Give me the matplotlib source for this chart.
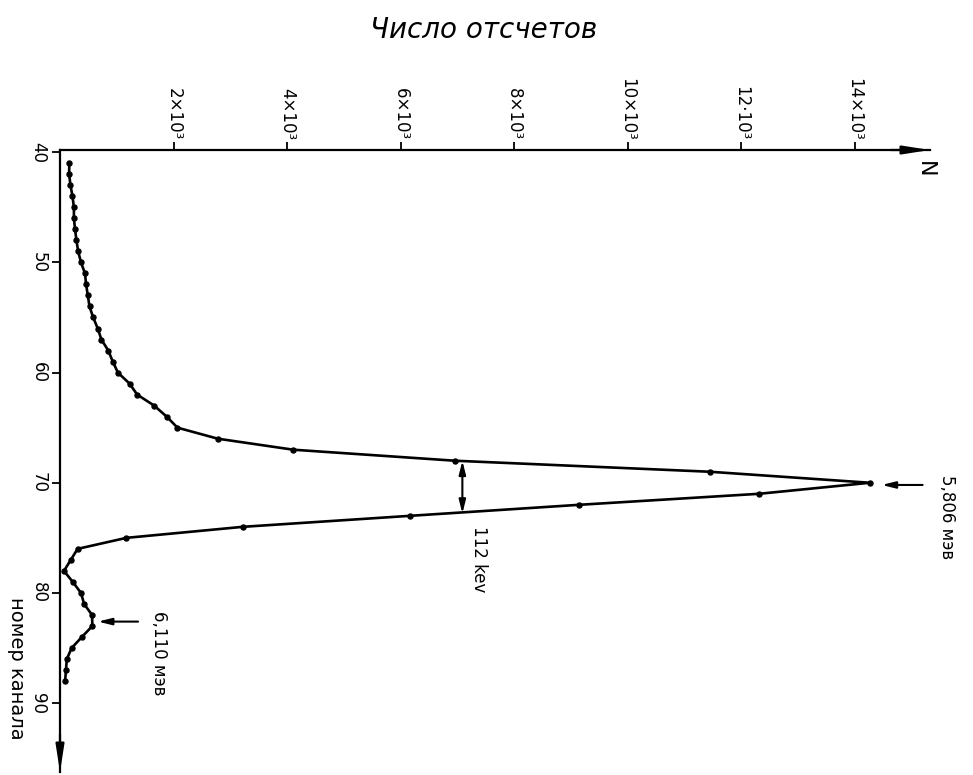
import matplotlib
matplotlib.use("Agg")
import matplotlib.pyplot as plt

plt.rcParams['font.family'] = ['DejaVu Sans']

# ---- data ----
channels = [41, 42, 43, 44, 45, 46, 47, 48, 49, 50,
            51, 52, 53, 54, 55, 56, 57, 58, 59, 60,
            61, 62, 63, 64, 65, 66, 67, 68, 69, 70,
            71, 72, 73, 74, 75, 76, 77, 78, 79, 80,
            81, 82, 83, 84, 85, 86, 87, 88]
counts = [165, 160, 185, 220, 245, 245, 265, 290, 320, 370,
          440, 460, 490, 520, 585, 665, 730, 850, 930, 1020,
          1225, 1360, 1660, 1880, 2070, 2780, 4110, 6960, 11450, 14270,
          12320, 9150, 6170, 3220, 1170, 310, 190, 70, 225, 370,
          425, 565, 570, 385, 205, 120, 105, 90]

n_ticks = [2000, 4000, 6000, 8000, 10000, 12000, 14000]
n_tick_labels = ["2×10³", "4×10³", "6×10³", "8×10³", "10×10³", "12·10³", "14×10³"]
ch_ticks = [40, 50, 60, 70, 80, 90]
ch_tick_labels = ["40", "50", "60", "70", "80", "90"]

title_text = "Число отсчетов"
n_label = "N"
ch_label = "номер канала"
peak1_label = "5,806 мэв"
peak2_label = "6,110 мэв"
fwhm_label = "112 kev"

# ---- figure ----
W, H = 973, 775
fig = plt.figure(figsize=(W / 100, H / 100), dpi=100)
ax = fig.add_axes([60 / W, 1 - 772 / H, (930 - 60) / W, (772 - 150) / H])
ax.set_xlim(0, 15330)
ax.set_ylim(96.25, 39.8)

ax.plot(counts, channels, '-', color='black', lw=1.9, zorder=3)
ax.plot(counts, channels, 'o', color='black', ms=3.6, zorder=4)

# axes styling
for s in ['bottom', 'right']:
    ax.spines[s].set_visible(False)
for s in ['top', 'left']:
    ax.spines[s].set_linewidth(1.6)

ax.xaxis.tick_top()
ax.set_xticks(n_ticks)
ax.set_xticklabels(n_tick_labels, rotation=-90, fontsize=12)
ax.tick_params(axis='x', direction='out', length=6, width=1.3, pad=1)
ax.set_yticks(ch_ticks)
ax.set_yticklabels(ch_tick_labels, rotation=-90, fontsize=12, va='center')
ax.tick_params(axis='y', direction='out', length=6, width=1.3, pad=3)

# axis arrow heads
ax.annotate('', xy=(1.0, 1.0), xytext=(0.955, 1.0), xycoords='axes fraction',
            arrowprops=dict(arrowstyle='-|>,head_length=1.6,head_width=0.25',
                            color='black', lw=1.6, shrinkA=0, shrinkB=0),
            annotation_clip=False)
ax.annotate('', xy=(0.0, 0.0), xytext=(0.0, 0.06), xycoords='axes fraction',
            arrowprops=dict(arrowstyle='-|>,head_length=1.6,head_width=0.25',
                            color='black', lw=1.6, shrinkA=0, shrinkB=0),
            annotation_clip=False)

# annotations
ax.annotate('', xy=(14480, 70.2), xytext=(15200, 70.2),
            arrowprops=dict(arrowstyle='-|>,head_length=0.8,head_width=0.2',
                            color='black', lw=1.5, shrinkA=0, shrinkB=0),
            annotation_clip=False)
ax.text(15630, 69.3, peak1_label, rotation=-90, ha='center', va='top', fontsize=12)

ax.annotate('', xy=(670, 82.6), xytext=(1375, 82.6),
            arrowprops=dict(arrowstyle='-|>,head_length=0.8,head_width=0.2',
                            color='black', lw=1.5, shrinkA=0, shrinkB=0))
ax.text(1745, 81.6, peak2_label, rotation=-90, ha='center', va='top', fontsize=12)

ax.annotate('', xy=(7090, 68.0), xytext=(7090, 72.8),
            arrowprops=dict(arrowstyle='<|-|>,head_length=0.8,head_width=0.2',
                            color='black', lw=1.5, shrinkA=0, shrinkB=0))
ax.text(7375, 73.9, fwhm_label, rotation=-90, ha='center', va='top', fontsize=12)

# titles / labels
fig.text(484 / W, 1 - 30 / H, title_text, ha='center', va='center',
         fontsize=20, style='italic')
fig.text(925 / W, 1 - 169 / H, n_label, ha='center', va='center',
         fontsize=16, rotation=-90)
fig.text(16 / W, 1 - 668 / H, ch_label, ha='center', va='center',
         fontsize=14, rotation=-90)

fig.savefig("out.png", dpi=100)
